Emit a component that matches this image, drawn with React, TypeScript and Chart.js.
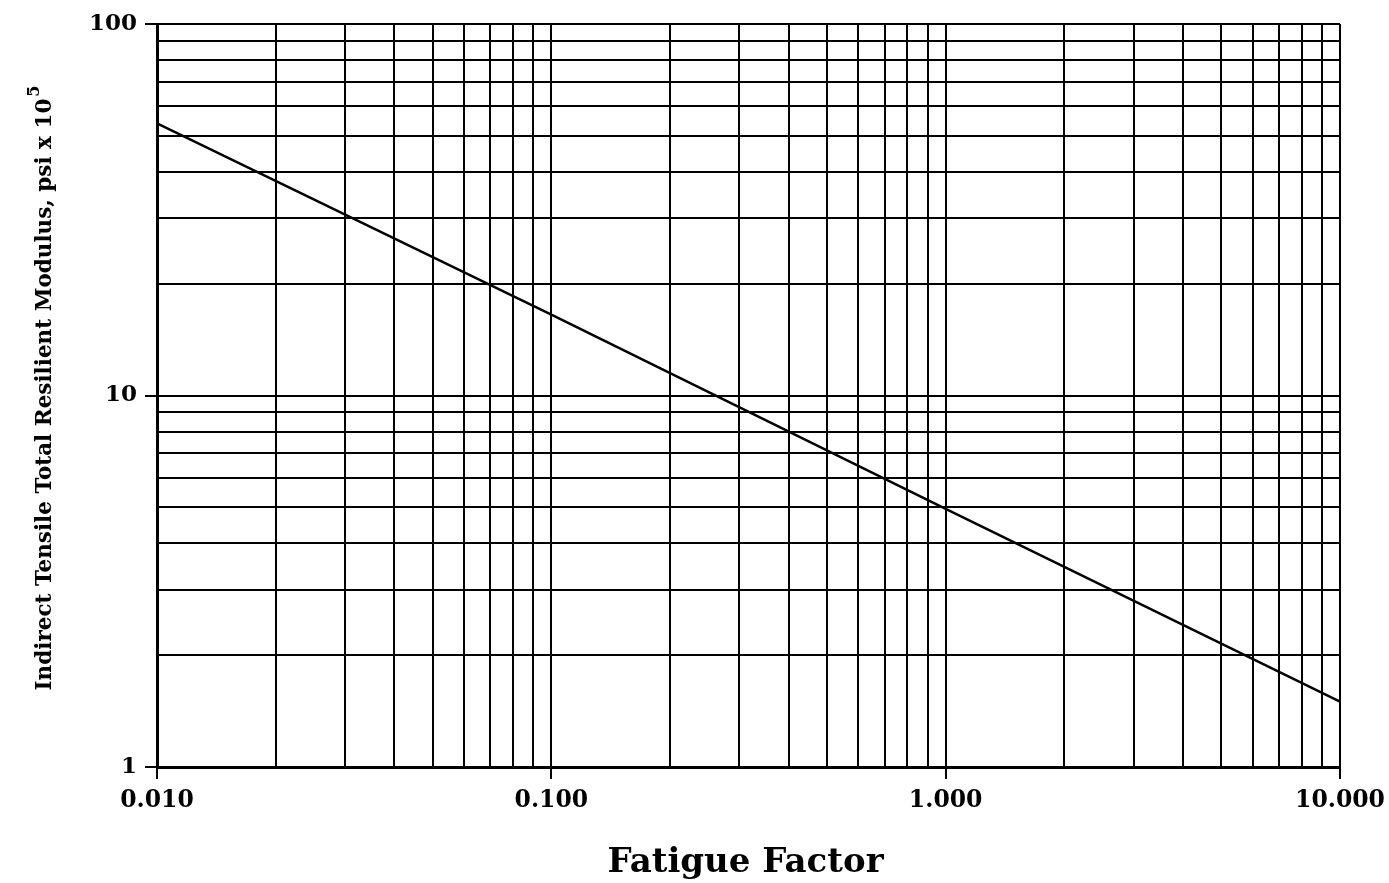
import React, { useEffect, useRef } from "react";
import { Chart, registerables } from "chart.js";

Chart.register(...registerables);

// Data
const lineX = [0.01, 0.1, 1, 10];
const lineY = [54, 16.5, 4.95, 1.5];

const xTickValues = [
  0.01, 0.02, 0.03, 0.04, 0.05, 0.06, 0.07, 0.08, 0.09,
  0.1, 0.2, 0.3, 0.4, 0.5, 0.6, 0.7, 0.8, 0.9,
  1, 2, 3, 4, 5, 6, 7, 8, 9, 10,
];
const xMajorValues = [0.01, 0.1, 1, 10];
const xMajorLabels = ["0.010", "0.100", "1.000", "10.000"];

const yTickValues = [1, 2, 3, 4, 5, 6, 7, 8, 9, 10, 20, 30, 40, 50, 60, 70, 80, 90, 100];
const yMajorValues = [1, 10, 100];
const yMajorLabels = ["1", "10", "100"];

const xTitle = "Fatigue Factor";
const yTitleMain = "Indirect Tensile Total Resilient Modulus, psi x 10";
const yTitleSup = "5";

const FONT = "'DejaVu Serif', serif";

const isMajor = (list: number[], v: number) => list.some((m) => Math.abs(m - v) < 1e-9 * Math.max(1, m));

const titlePlugin = {
  id: "customTitles",
  afterDraw(chart: any) {
    const { ctx, chartArea } = chart;
    ctx.save();
    ctx.fillStyle = "#000";
    // X title
    ctx.font = `bold 34px ${FONT}`;
    ctx.textAlign = "center";
    ctx.textBaseline = "middle";
    ctx.fillText(xTitle, (chartArea.left + chartArea.right) / 2 - 3, 863);
    // Y title rotated with superscript
    ctx.translate(45, 388);
    ctx.rotate(-Math.PI / 2);
    ctx.font = `bold 21.5px ${FONT}`;
    const mainW = ctx.measureText(yTitleMain).width;
    ctx.font = `bold 16px ${FONT}`;
    const supW = ctx.measureText(yTitleSup).width;
    const total = mainW + supW + 2;
    ctx.textAlign = "left";
    ctx.textBaseline = "alphabetic";
    ctx.font = `bold 21.5px ${FONT}`;
    ctx.fillText(yTitleMain, -total / 2, 6);
    ctx.font = `bold 16px ${FONT}`;
    ctx.fillText(yTitleSup, -total / 2 + mainW + 2, -6);
    ctx.restore();
  },
};

export default function App() {
  const ref = useRef<HTMLCanvasElement | null>(null);
  useEffect(() => {
    if (!ref.current) return;
    const chart = new Chart(ref.current, {
      type: "line",
      data: {
        datasets: [
          {
            data: lineX.map((x, i) => ({ x, y: lineY[i] })),
            borderColor: "#000",
            borderWidth: 2.5,
            pointRadius: 0,
            fill: false,
            tension: 0,
          },
        ],
      },
      options: {
        animation: false,
        responsive: false,
        maintainAspectRatio: false,
        layout: { padding: { left: 0, right: 49, top: 24, bottom: 0 } },
        plugins: { legend: { display: false }, tooltip: { enabled: false }, title: { display: false } },
        scales: {
          x: {
            type: "logarithmic",
            min: 0.01,
            max: 10,
            afterBuildTicks: (scale: any) => {
              scale.ticks = xTickValues.map((v) => ({ value: v, major: isMajor(xMajorValues, v) }));
            },
            afterFit: (scale: any) => {
              scale.height = 116;
              scale.paddingLeft = 0;
              scale.paddingRight = 0;
            },
            ticks: {
              autoSkip: false,
              maxRotation: 0,
              minRotation: 0,
              padding: 8,
              color: "#000",
              font: { family: FONT, weight: "bold", size: 23.5 },
              callback: (value: any) => {
                const i = xMajorValues.findIndex((m) => Math.abs(m - Number(value)) < 1e-9);
                return i >= 0 ? xMajorLabels[i] : "";
              },
            },
            grid: {
              color: "#000",
              lineWidth: 2,
              tickLength: 12,
              tickWidth: 2,
              tickColor: (ctx: any) => (ctx.tick && isMajor(xMajorValues, ctx.tick.value) ? "#000" : "rgba(0,0,0,0)"),
            },
            border: { display: true, color: "#000", width: 3 },
          },
          y: {
            type: "logarithmic",
            min: 1,
            max: 100,
            afterBuildTicks: (scale: any) => {
              scale.ticks = yTickValues.map((v) => ({ value: v, major: isMajor(yMajorValues, v) }));
            },
            afterFit: (scale: any) => {
              scale.width = 157;
              scale.paddingTop = 0;
              scale.paddingBottom = 0;
            },
            ticks: {
              autoSkip: false,
              padding: 8,
              color: "#000",
              font: { family: FONT, weight: "bold", size: 23 },
              callback: (value: any) => {
                const i = yMajorValues.findIndex((m) => Math.abs(m - Number(value)) < 1e-9);
                return i >= 0 ? yMajorLabels[i] : "";
              },
            },
            grid: {
              color: "#000",
              lineWidth: 2,
              tickLength: 12,
              tickWidth: 2,
              tickColor: (ctx: any) => (ctx.tick && isMajor(yMajorValues, ctx.tick.value) ? "#000" : "rgba(0,0,0,0)"),
            },
            border: { display: true, color: "#000", width: 3 },
          },
        },
      } as any,
      plugins: [titlePlugin],
    });
    return () => chart.destroy();
  }, []);

  return (
    <div style={{ position: "absolute", left: 0, top: 0, width: 1389, height: 883, background: "#fff" }}>
      <canvas ref={ref} width={1389} height={883} style={{ display: "block", width: 1389, height: 883 }} />
    </div>
  );
}
